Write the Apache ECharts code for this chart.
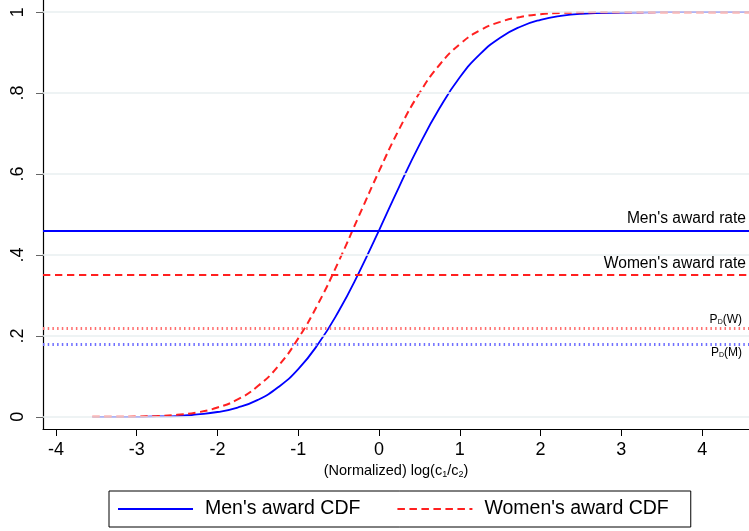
<!DOCTYPE html>
<html><head><meta charset="utf-8">
<script src="https://cdn.jsdelivr.net/npm/echarts@6/dist/echarts.min.js"></script>
<style>html,body{margin:0;padding:0;background:#fff}#c{width:749px;height:531px}</style>
</head><body><div id="c"></div>
<script>
// ---- data ----
const xs =    [-3.55,-3.25,-3,-2.75,-2.5,-2.25,-2,-1.75,-1.5,-1.25,-1,-0.75,-0.5,-0.25,0,0.25,0.5,0.75,1,1.25,1.5,1.75,2,2.25,2.5,3,3.5,4,4.58];
const menCdf = [0,0,0,0.001,0.002,0.006,0.012,0.023,0.042,0.073,0.118,0.181,0.261,0.356,0.461,0.569,0.672,0.763,0.839,0.896,0.937,0.964,0.981,0.991,0.996,0.999,1,1,1];
const womenCdf=[0,0,0.001,0.002,0.005,0.011,0.023,0.043,0.076,0.125,0.194,0.281,0.384,0.496,0.607,0.711,0.800,0.870,0.921,0.955,0.976,0.988,0.995,0.998,0.999,1,1,1,1];
const menRate = 0.46;
const womenRate = 0.35;
const pdW = 0.22;
const pdM = 0.18;
const xTicks = [-4,-3,-2,-1,0,1,2,3,4];
const yTicks = [0,0.2,0.4,0.6,0.8,1];
const yTickLabels = ['0','.2','.4','.6','.8','1'];
const seriesNames = ["Men's award CDF","Women's award CDF"];

const FONT = "'Liberation Sans', Arial, sans-serif";
const chart = echarts.init(document.getElementById('c'), null, {renderer:'canvas'});
const pairs = ys => xs.map((x,i)=>[x, ys[i]]);

const option = {
  animation:false,
  backgroundColor:'#fff',
  textStyle:{fontFamily:FONT},
  grid:{left:43, right:-8, top:0, bottom:102, containLabel:false},
  xAxis:{
    type:'value', min:-4.16, max:4.58,
    axisLine:{show:true, onZero:false, lineStyle:{color:'#000', width:1.2}},
    axisTick:{show:true, customValues:xTicks, length:7, lineStyle:{color:'#000', width:1}},
    axisLabel:{customValues:xTicks, fontSize:18, color:'#000', margin:12, fontFamily:FONT},
    splitLine:{show:false},
    name:"{a|(Normalized) log(c}{b|1}{a|/c}{b|2}{a|)}",
    nameLocation:'middle', nameGap:34,
    nameTextStyle:{rich:{
      a:{fontSize:14.5, color:'#000', fontFamily:FONT},
      b:{fontSize:9, color:'#000', fontFamily:FONT, verticalAlign:'bottom', padding:[6,0,0,0]}
    }}
  },
  yAxis:{
    type:'value', min:-0.03, max:1.03,
    axisLine:{show:true, onZero:false, lineStyle:{color:'#000', width:1.2}},
    axisTick:{show:true, customValues:yTicks, length:7, lineStyle:{color:'#666', width:1}},
    axisLabel:{customValues:yTicks, rotate:90, fontSize:18, color:'#000', margin:16, fontFamily:FONT,
      formatter:v=>{const i=yTicks.findIndex(t=>Math.abs(t-v)<1e-9);return i>=0?yTickLabels[i]:'';}},
    splitLine:{show:false}
  },
  legend:{
    data:seriesNames, left:109, top:491, orient:'horizontal',
    borderColor:'#000', borderWidth:1, padding:[8,22,8,8],
    itemWidth:75, itemHeight:14, itemGap:36,
    itemStyle:{opacity:0},
    textStyle:{fontSize:19.5, color:'#000', fontFamily:FONT, padding:[0,0,0,7]}
  },
  series:[
    {name:'grid', type:'line', data:[], silent:true, z:0,
      markLine:{silent:true, symbol:'none', label:{show:false},
        lineStyle:{color:'#e9eff1', width:1.5, type:'solid'},
        data:yTicks.map(v=>({yAxis:v}))}},
    {name:seriesNames[0], type:'line', data:pairs(menCdf), symbol:'none', showSymbol:false, smooth:true, z:3,
      lineStyle:{color:'#0000ff', width:1.8}, itemStyle:{color:'#0000ff'},
      markLine:{silent:true, symbol:'none', label:{show:false}, data:[
        {yAxis:menRate, lineStyle:{color:'#0000ff', width:1.8, type:'solid'}},
        {yAxis:pdM, lineStyle:{color:'#7070ff', width:3, type:[1.5,3.2], cap:'butt'}}
      ]}},
    {name:seriesNames[1], type:'line', data:pairs(womenCdf), symbol:'none', showSymbol:false, smooth:true, z:4,
      lineStyle:{color:'#ff2020', width:2, type:[7.5,4.5]}, itemStyle:{color:'#ff2020'},
      markLine:{silent:true, symbol:'none', label:{show:false}, data:[
        {yAxis:womenRate, lineStyle:{color:'#ff2020', width:2, type:[7.3,4.7]}},
        {yAxis:pdW, lineStyle:{color:'#ff7070', width:3, type:[1.5,3.2], cap:'butt'}}
      ]}}
  ]
};
chart.setOption(option);

// text annotations positioned through the axis scale
const yPix = v => chart.convertToPixel({gridIndex:0}, [0, v])[1];
const RIGHT = 746;
const subRich = {
  n:{fontSize:12, fill:'#000', fontFamily:FONT},
  s:{fontSize:7, fill:'#000', fontFamily:FONT, verticalAlign:'bottom', padding:[5,0,0,0]}
};
chart.setOption({graphic:[
  {type:'text', x:RIGHT, y:yPix(menRate)-4, z:10, style:{text:"Men's award rate", fontSize:15.6, fontFamily:FONT, fill:'#000', align:'right', verticalAlign:'bottom'}},
  {type:'text', x:RIGHT, y:yPix(womenRate)-4, z:10, style:{text:"Women's award rate", fontSize:15.6, fontFamily:FONT, fill:'#000', align:'right', verticalAlign:'bottom'}},
  {type:'text', x:742, y:yPix(pdW)-2, z:10, style:{text:'{n|P}{s|D}{n|(W)}', rich:subRich, align:'right', verticalAlign:'bottom'}},
  {type:'text', x:742, y:yPix(pdM)+3, z:10, style:{text:'{n|P}{s|D}{n|(M)}', rich:subRich, align:'right', verticalAlign:'top'}}
]});
</script></body></html>
